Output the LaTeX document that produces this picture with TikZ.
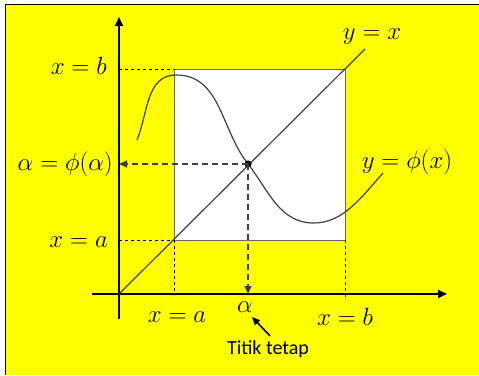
\documentclass[tikz,border=0pt]{standalone}
\usepackage{amsmath}
\usepackage{fontspec}
\newfontfamily\labelfont{Carlito}
\usetikzlibrary{arrows.meta, positioning, calc}
\definecolor{bgyellow}{RGB}{255,255,0}

\begin{document}
\begin{tikzpicture}[x=1pt, y=1pt,
        axisline/.style={-{Triangle[length=9pt, width=8pt]}, line width=1.6pt},
        guide/.style={line width=0.7pt, dash pattern=on 3pt off 3pt},
        fixarrow/.style={-{Triangle[length=8pt, width=7pt]}, line width=1.6pt, draw=black!75, dash pattern=on 6pt off 4pt},
        mathlabel/.style={font=\fontsize{23}{26}\selectfont, inner sep=1pt},
        curveline/.style={line width=1.2pt, draw=black!75}
    ]
        % background and frame
        \useasboundingbox (0,0) rectangle (479,375);
        \fill[bgyellow] (5,0) rectangle (479,370);
        \draw[line width=1pt] (5,0) -- (5,370) -- (479,370);

        % points
        \coordinate (O) at (119,81);
        \coordinate (A) at (174,135);
        \coordinate (B) at (345,306);
        \coordinate (P) at (248,211);

        % square [a,b]x[a,b]
        \draw[fill=white, draw=black!60, line width=0.9pt] (A) rectangle (B);

        % guides
        \draw[guide] (O |- B) -- (A |- B);
        \draw[guide] (O |- A) -- (A);
        \draw[guide] (A) -- (A |- O);
        \draw[guide] (B |- A) -- ($(B |- O)+(0,-4)$);

        % axes
        \draw[axisline] (92,81) -- (447,81);
        \draw[axisline] (119,56) -- (119,358);

        % y = x
        \draw[curveline] (O) -- (365,326);
        \node[mathlabel] (yx) at (372,338) {$y=x$};

        % y = phi(x)
        \draw[curveline] (137,235) to[out=68, in=180] (176,300)
            to[out=0, in=128] (P)
            to[out=-52, in=180] (314,152)
            to[out=0, in=228, looseness=0.9] (383,202);
        \node[mathlabel] (yphi) at (407,213) {$y=\phi(x)$};

        % fixed point
        \fill (P) circle (3.6pt);
        \draw[fixarrow] (P) -- (O |- P);
        \draw[fixarrow] (P) -- (P |- O);

        % labels
        \node[mathlabel, anchor=east] (lb) at (108,309) {$x=b$};
        \node[mathlabel, anchor=east] (lalpha) at (114,211) {$\alpha=\phi(\alpha)$};
        \node[mathlabel, anchor=east] (la) at (109,133) {$x=a$};
        \node[mathlabel] (xa) at (177,58) {$x=a$};
        \node[mathlabel] (xb) at (345,58) {$x=b$};
        \node[mathlabel] (alpha) at (245,68) {$\alpha$};
        \node[font=\labelfont\fontsize{20}{24}\selectfont] (titik) at (268,26) {Titik tetap};
        \coordinate (tip) at (252,58);
        \draw[-{Triangle[length=8pt, width=7pt]}, line width=1.6pt] ($(titik.north)+(2,1)$) -- (tip);
    \end{tikzpicture}
\end{document}
